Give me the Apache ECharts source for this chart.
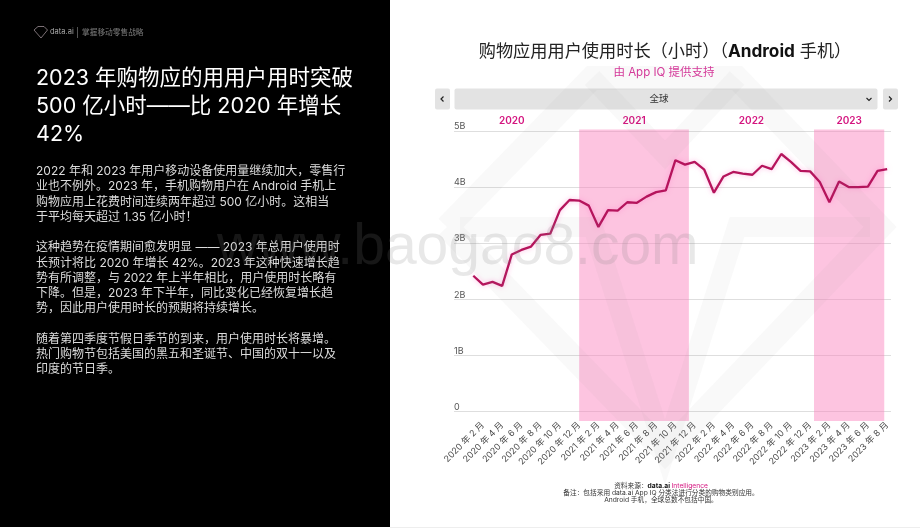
<!DOCTYPE html>
<html>
<head>
<meta charset="utf-8">
<style>
  html, body { margin: 0; padding: 0; background: #fff; }
  #chart { width: 920px; height: 528px; }
</style>
</head>
<body>
<div id="chart"></div>
<script src="https://cdn.jsdelivr.net/npm/echarts@6/dist/echarts.min.js"></script>
<script>
const usageHours = [2.42, 2.26, 2.31, 2.24, 2.80, 2.88, 2.94, 3.15, 3.17, 3.59, 3.77,
  3.76, 3.67, 3.29, 3.59, 3.58, 3.73, 3.72, 3.83, 3.91, 3.94, 4.48, 4.40, 4.45,
  4.31, 3.90, 4.19, 4.27, 4.24, 4.22, 4.38, 4.32, 4.59, 4.45, 4.29, 4.28, 4.09,
  3.73, 4.10, 4.00, 4.00, 4.01, 4.29, 4.32];
const tickLabels = ['2020 年 2 月', '2020 年 4 月', '2020 年 6 月', '2020 年 8 月', '2020 年 10 月', '2020 年 12 月',
  '2021 年 2 月', '2021 年 4 月', '2021 年 6 月', '2021 年 8 月', '2021 年 10 月', '2021 年 12 月',
  '2022 年 2 月', '2022 年 4 月', '2022 年 6 月', '2022 年 8 月', '2022 年 10 月', '2022 年 12 月',
  '2023 年 2 月', '2023 年 4 月', '2023 年 6 月', '2023 年 8 月'];
const years = ['2020', '2021', '2022', '2023'];
const yearStart = [-2, 11, 22.4, 35.4];
const yearEnd = [10, 22.4, 35.4, 42.7];
const yearShaded = [false, true, false, true];

const headline = ['2023 年购物应的用用户用时突破', '500 亿小时——比 2020 年增长', '42%'];
const bodyLines = [
  '2022 年和 2023 年用户移动设备使用量继续加大，零售行',
  '业也不例外。2023 年，手机购物用户在 Android 手机上',
  '购物应用上花费时间连续两年超过 500 亿小时。这相当',
  '于平均每天超过 1.35 亿小时！',
  '',
  '这种趋势在疫情期间愈发明显 —— 2023 年总用户使用时',
  '长预计将比 2020 年增长 42%。2023 年这种快速增长趋',
  '势有所调整，与 2022 年上半年相比，用户使用时长略有',
  '下降。但是，2023 年下半年，同比变化已经恢复增长趋',
  '势，因此用户使用时长的预期将持续增长。',
  '',
  '随着第四季度节假日季节的到来，用户使用时长将暴增。',
  '热门购物节包括美国的黑五和圣诞节、中国的双十一以及',
  '印度的节日季。'
];

const FONT = 'Inter, "Noto Sans CJK SC", sans-serif';
const PINK = '#d4147f';
const X_MIN = -2.005;
const X_MAX = 43.4;

function buildBands() {
  return years.map(function (year, i) {
    return [
      {
        name: year,
        xAxis: yearStart[i],
        itemStyle: { color: yearShaded[i] ? 'rgba(250,130,190,0.47)' : 'rgba(0,0,0,0)' }
      },
      { xAxis: yearEnd[i] }
    ];
  });
}

function diamondStroke(points, width) {
  return {
    type: 'polyline',
    silent: true,
    z: 100,
    shape: { points: points },
    style: { fill: null, stroke: 'rgba(128,128,128,0.05)', lineWidth: width, lineJoin: 'miter' }
  };
}

function panelElements() {
  return [
    { type: 'rect', z: 100, silent: true, shape: { x: 0, y: 0, width: 390, height: 527 }, style: { fill: '#000' } },
    { type: 'rect', z: 100, silent: true, shape: { x: 390, y: 527, width: 530, height: 1 }, style: { fill: '#eeeeee' } },
    // header logo
    {
      type: 'polygon', z: 100, silent: true,
      shape: { points: [[34, 30], [38, 26.5], [44, 26.5], [47.5, 30], [41, 38]] },
      style: { fill: null, stroke: '#b0a0a8', lineWidth: 0.7 }
    },
    { type: 'text', z: 100, silent: true, style: { x: 50, y: 32, text: 'data.ai', fill: '#a8a8a8', font: '7.5px ' + FONT, verticalAlign: 'middle' } },
    { type: 'rect', z: 100, silent: true, shape: { x: 77, y: 27, width: 0.7, height: 11 }, style: { fill: '#777' } },
    { type: 'text', z: 100, silent: true, style: { x: 82, y: 32.5, text: '掌握移动零售战略', fill: '#7c7c7c', font: '7.7px ' + FONT, verticalAlign: 'middle' } },
    // left column text
    {
      type: 'text', z: 100, silent: true,
      style: { x: 36, y: 65, text: headline.join('\n'), fill: '#fff', font: '21.5px ' + FONT, lineHeight: 27.8 }
    },
    {
      type: 'text', z: 100, silent: true,
      style: { x: 36, y: 164, text: bodyLines.join('\n'), fill: '#dcdcdc', font: '12px ' + FONT, lineHeight: 15.25 }
    },
    // region selector
    { type: 'rect', z: 100, silent: true, shape: { x: 435, y: 88.5, width: 15, height: 21, r: 2 }, style: { fill: '#e3e3e3' } },
    { type: 'rect', z: 100, silent: true, shape: { x: 454.5, y: 88.5, width: 423, height: 21, r: 2 }, style: { fill: '#e3e3e3' } },
    { type: 'rect', z: 100, silent: true, shape: { x: 883, y: 88.5, width: 15, height: 21, r: 2 }, style: { fill: '#e3e3e3' } },
    { type: 'text', z: 100, silent: true, style: { x: 659, y: 99.5, text: '全球', fill: '#333', font: '9.5px ' + FONT, align: 'center', verticalAlign: 'middle' } },
    { type: 'polyline', z: 100, silent: true, shape: { points: [[443.5, 96.5], [441, 99], [443.5, 101.5]] }, style: { fill: null, stroke: '#222', lineWidth: 1.2 } },
    { type: 'polyline', z: 100, silent: true, shape: { points: [[889, 96.5], [891.5, 99], [889, 101.5]] }, style: { fill: null, stroke: '#222', lineWidth: 1.2 } },
    { type: 'polyline', z: 100, silent: true, shape: { points: [[866.5, 98], [869, 100.5], [871.5, 98]] }, style: { fill: null, stroke: '#222', lineWidth: 1.1 } },
    // footnote
    {
      type: 'text', z: 100, silent: true,
      style: {
        x: 661, y: 482.5, align: 'center',
        text: '{n|资料来源：}{b|data.ai }{p|Intelligence}\n{n|备注：包括采用 data.ai App IQ 分类法进行分类的购物类别应用。}\n{n|Android 手机，全球总数不包括中国。}',
        rich: {
          n: { font: '6.7px ' + FONT, fill: '#333', lineHeight: 7 },
          b: { font: 'bold 6.7px ' + FONT, fill: '#111', lineHeight: 7 },
          p: { font: '6.7px ' + FONT, fill: PINK, lineHeight: 7 }
        }
      }
    },
    // watermark, it sits over everything
    diamondStroke([[447, 227], [592, 78], [737, 78], [880, 227], [665, 452], [447, 227]], 24),
    diamondStroke([[592, 78], [665, 155], [737, 78]], 20),
    diamondStroke([[460, 227], [593, 227], [665, 452], [737, 227], [870, 227]], 20),
    {
      type: 'text', z: 100, silent: true,
      style: { x: 217, y: 220, text: 'www.baogao8.com', fill: 'rgba(128,128,128,0.18)', font: '57px "Liberation Sans", sans-serif' }
    }
  ];
}

const chartDom = echarts.init(document.getElementById('chart'), null, { renderer: 'canvas' });
const option = {
  animation: false,
  backgroundColor: '#fff',
  title: [{
    text: '{a|购物应用用户使用时长（小时）（}{b|Android}{a| 手机）}',
    left: 660,
    top: 38,
    textAlign: 'center',
    textStyle: {
      rich: {
        a: { fontFamily: FONT, fontSize: 17.2, color: '#222', fontWeight: 'normal' },
        b: { fontFamily: FONT, fontSize: 17.2, color: '#111', fontWeight: 'bold' }
      }
    }
  }, {
    text: '由 App IQ 提供支持',
    left: 659,
    top: 62,
    textAlign: 'center',
    textStyle: { fontFamily: FONT, fontSize: 11.5, color: '#d9369b', fontWeight: 'normal' }
  }],
  grid: [
    { left: 454, right: 29, top: 131, bottom: 116.5 },
    { left: 454, right: 29, top: 129.5, bottom: 107 }
  ],
  xAxis: [{
    type: 'value',
    gridIndex: 0,
    min: X_MIN,
    max: X_MAX,
    axisLine: { show: false },
    axisTick: { show: false },
    splitLine: { show: false },
    axisLabel: {
      customValues: tickLabels.map(function (label, i) { return 1 + i * 2; }),
      formatter: function (value) { return tickLabels[(value - 1) / 2]; },
      rotate: 45,
      margin: 12,
      fontFamily: FONT,
      fontSize: 8.9,
      color: '#4a4a4a'
    }
  }, {
    type: 'value',
    gridIndex: 1,
    min: X_MIN,
    max: X_MAX,
    show: false
  }],
  yAxis: [{
    type: 'value',
    gridIndex: 0,
    min: 0,
    max: 5,
    interval: 1,
    axisLine: { show: false },
    axisTick: { show: false },
    splitLine: { lineStyle: { color: '#dedede', width: 1 } },
    axisLabel: {
      inside: true,
      margin: 0,
      verticalAlign: 'bottom',
      fontFamily: FONT,
      fontSize: 9,
      color: '#555',
      formatter: function (value) { return value ? value + 'B' : '0'; }
    }
  }, {
    type: 'value',
    gridIndex: 1,
    min: 0,
    max: 1,
    show: false
  }],
  series: [{
    type: 'line',
    xAxisIndex: 1,
    yAxisIndex: 1,
    data: [],
    silent: true,
    z: 1,
    markArea: {
      silent: true,
      label: {
        show: true,
        position: 'top',
        distance: 4,
        fontFamily: FONT,
        fontSize: 10,
        fontWeight: 600,
        color: PINK
      },
      data: buildBands()
    }
  }, {
    name: 'usage',
    type: 'line',
    xAxisIndex: 0,
    yAxisIndex: 0,
    data: usageHours.map(function (v, i) { return [i, v]; }),
    symbol: 'none',
    z: 5,
    lineStyle: {
      color: '#b5145c',
      width: 2.3,
      shadowColor: 'rgba(255,120,200,0.55)',
      shadowBlur: 5
    }
  }],
  graphic: { elements: panelElements() }
};
chartDom.setOption(option);
</script>
</body>
</html>
